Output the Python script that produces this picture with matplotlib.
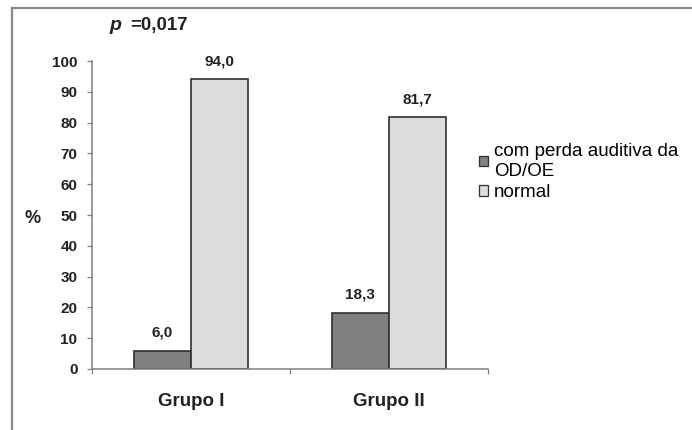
import matplotlib
matplotlib.use("Agg")
import matplotlib.pyplot as plt
import numpy as np
from matplotlib.patches import Patch
from matplotlib.lines import Line2D

plt.rcParams['font.family'] = ['Liberation Sans', 'DejaVu Sans']

grupos = ["Grupo I", "Grupo II"]
com_perda = [6.0, 18.3]
normal = [94.0, 81.7]
series_labels = ["com perda auditiva da\nOD/OE", "normal"]
yticks = [0, 10, 20, 30, 40, 50, 60, 70, 80, 90, 100]
p_text = "=0,017"

dark = "#808080"
light = "#dcdcdc"
edge = "#303030"
txt = "#222222"

fig = plt.figure(figsize=(6.92, 4.30), dpi=100)
ax = fig.add_axes([92 / 692, 1 - 369 / 430, (488 - 92) / 692, (369 - 61) / 430])

x = np.arange(len(grupos))
w = 0.29
b1 = ax.bar(x - w / 2, com_perda, w, color=dark, edgecolor=edge, linewidth=1.2)
b2 = ax.bar(x + w / 2, normal, w, color=light, edgecolor=edge, linewidth=1.2)

# value labels with comma decimals
for bars, vals in ((b1, com_perda), (b2, normal)):
    for r, v in zip(bars, vals):
        ax.text(r.get_x() + r.get_width() / 2, v + 3.5, f"{v:.1f}".replace(".", ","),
                ha="center", va="bottom", fontsize=11, fontweight="bold", color=txt)

ax.set_xlim(-0.5, 1.5)
ax.set_ylim(0, 100)
ax.set_yticks(yticks)
ax.set_yticklabels([str(t) for t in yticks], fontsize=11, fontweight="bold", color=txt)
ax.set_xticks([-0.5, 0.5, 1.5])
ax.set_xticklabels([])
ax.tick_params(axis="both", direction="out", length=3.5, width=0.9, color="#808080", pad=7)
for s in ("top", "right"):
    ax.spines[s].set_visible(False)
for s in ("left", "bottom"):
    ax.spines[s].set_color("#808080")
    ax.spines[s].set_linewidth(1.1)

for xi, g in zip(x, grupos):
    ax.text(xi, -0.105, g, transform=ax.get_xaxis_transform(), ha="center", va="center",
            fontsize=13.5, fontweight="bold", color=txt)

fig.text(33 / 692, 1 - 218 / 430, "%", ha="center", va="center", fontsize=13,
         fontweight="bold", color=txt)
fig.text(109 / 692, 1 - 30 / 430, "p", ha="left", va="baseline", fontsize=14,
         fontweight="bold", style="italic", color=txt)
fig.text(130 / 692, 1 - 30 / 430, p_text, ha="left", va="baseline", fontsize=13.5,
         fontweight="bold", color=txt)

handles = [Patch(facecolor=dark, edgecolor=edge, linewidth=0.9),
           Patch(facecolor=light, edgecolor=edge, linewidth=0.9)]
fig.legend(handles, series_labels, loc="upper left", bbox_to_anchor=(479 / 692, 1 - 143 / 430),
           frameon=False, fontsize=13.5, handlelength=0.5, handleheight=0.5, handletextpad=0.3,
           labelspacing=0.25, borderaxespad=0, borderpad=0)

# outer frame, cut by the right and bottom edges
fig.add_artist(Line2D([12 / 692, 12 / 692], [0, 1 - 8 / 430], transform=fig.transFigure,
                      color="#8a8a8a", linewidth=1.6))
fig.add_artist(Line2D([12 / 692, 1], [1 - 8 / 430, 1 - 8 / 430], transform=fig.transFigure,
                      color="#8a8a8a", linewidth=1.6))

fig.savefig("out.png", dpi=100)
